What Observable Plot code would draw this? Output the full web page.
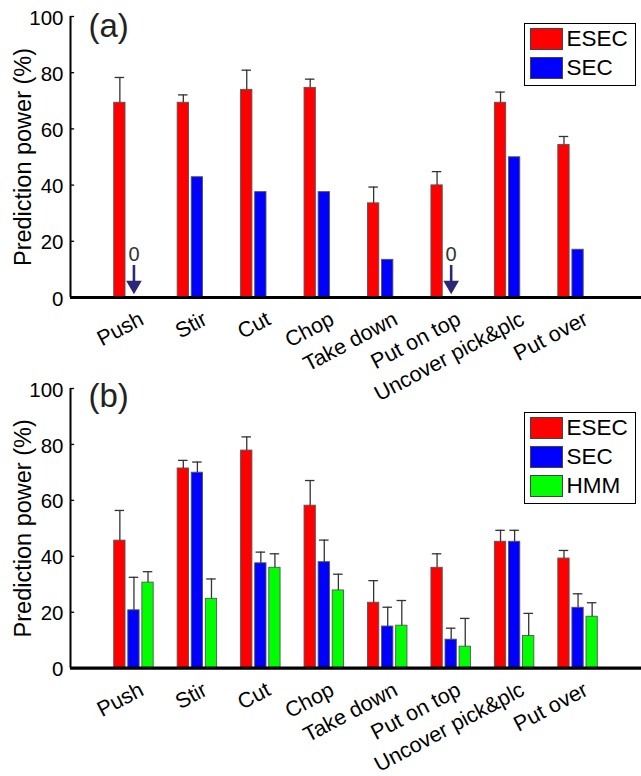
<!DOCTYPE html>
<html><head><meta charset="utf-8">
<script src="https://cdn.jsdelivr.net/npm/d3@7"></script>
<script src="https://cdn.jsdelivr.net/npm/@observablehq/plot@0.6"></script>
<style>
body{margin:0;background:#fff;font-family:"Liberation Sans",Arial,sans-serif;}
#wrap{position:relative;width:641px;height:776px;overflow:hidden;background:#fff;}
.panel{position:absolute;left:0;}
.legend{position:absolute;border:1.5px solid #000;background:#fff;box-sizing:border-box;}
.item{position:absolute;left:4.5px;display:flex;align-items:center;height:22px;}
.sw{width:33px;height:22px;border:1px solid #444;box-sizing:border-box;}
.lab{font-size:22.5px;margin-left:4px;color:#000;line-height:22px;}
</style></head>
<body><div id="wrap"></div>
<script>
// ---- data ----
const actions = ["Push","Stir","Cut","Chop","Take down","Put on top","Uncover pick&plc","Put over"];
const seriesAll = ["ESEC","SEC","HMM"];
const seriesColors = ["#ff0000","#0000ff","#00ff00"];
const yTicks = [0,20,40,60,80,100];

// panel (a)
const aESEC    = [69.3, 69.3, 73.9, 74.6, 33.5, 39.9, 69.3, 54.3];
const aESECerr = [9.0, 2.8, 7.0, 3.1, 5.8, 4.9, 3.8, 3.0];
const aSEC     = [0, 42.8, 37.5, 37.5, 13.4, 0, 49.9, 17.0];

// panel (b)
const bESEC    = [45.6, 71.4, 77.8, 58.1, 23.4, 35.9, 45.2, 39.2];
const bESECerr = [10.8, 2.9, 4.9, 9.0, 7.9, 5.0, 4.1, 2.9];
const bSEC     = [20.7, 69.9, 37.5, 37.9, 14.9, 10.2, 45.2, 21.6];
const bSECerr  = [11.8, 3.8, 4.0, 7.9, 6.9, 4.1, 4.1, 5.0];
const bHMM     = [30.6, 24.8, 35.9, 27.8, 15.2, 7.7, 11.5, 18.4];
const bHMMerr  = [3.9, 7.1, 5.0, 5.8, 9.0, 10.1, 8.1, 5.0];

// annotation for zero values (arrow with "0"), in data units
const zeroArrow = {shaftLow: 5.7, shaftHigh: 11.4, head: 4.4, label: 15.4};

// ---- build rows ----
function rowsOf(name, vals, errs) {
  return vals.map((v, i) => ({k: i + 1, series: name, slot: seriesAll.indexOf(name), value: v, err: errs ? errs[i] : null}));
}
const rowsA = [...rowsOf("ESEC", aESEC, aESECerr), ...rowsOf("SEC", aSEC, null)];
const rowsB = [...rowsOf("ESEC", bESEC, bESECerr), ...rowsOf("SEC", bSEC, bSECerr), ...rowsOf("HMM", bHMM, bHMMerr)];

const groupStep = 0.222, barW = 0.178, capW = 0.15;
const cx = d => d.k + (d.slot - 1) * groupStep;
const FONT = '"Liberation Sans", Arial, sans-serif';

function makePanel(rows, letter, height, marginBottom, letterDy) {
  const errRows = rows.filter(d => d.err != null);
  const zeros = rows.filter(d => d.value === 0);
  const marks = [
    Plot.rect(rows, {x1: d => cx(d) - barW / 2, x2: d => cx(d) + barW / 2, y1: 0, y2: "value", fill: "series", stroke: "#555", strokeWidth: 0.9}),
    Plot.ruleX(errRows, {x: cx, y1: "value", y2: d => d.value + d.err, stroke: "#333", strokeWidth: 1.3}),
    Plot.ruleY(errRows, {y: d => d.value + d.err, x1: d => cx(d) - capW / 2, x2: d => cx(d) + capW / 2, stroke: "#333", strokeWidth: 1.3}),
    Plot.ruleY(yTicks, {x1: 0, x2: 0.065, stroke: "#000", strokeWidth: 1.3}),
    Plot.ruleX([0], {y1: 0, y2: 100, stroke: "#000", strokeWidth: 2}),
    Plot.ruleY([0], {x1: 0, x2: 9, stroke: "#000", strokeWidth: 3.2}),
    Plot.ruleX(zeros, {x: cx, y1: zeroArrow.shaftLow, y2: zeroArrow.shaftHigh, stroke: "#2b2878", strokeWidth: 2.6}),
    Plot.dot(zeros, {x: cx, y: zeroArrow.head, symbol: "triangle", rotate: 180, r: 5.8, fill: "#2b2878", stroke: "none"}),
    Plot.text(zeros, {x: cx, y: zeroArrow.label, text: d => "0", fontSize: 20, fill: "#333"}),
    // y tick labels
    Plot.text(yTicks, {x: 0, y: d => d, text: d => String(d), textAnchor: "end", dx: -7, dy: 1.5, fontSize: 20.5, fill: "#000"}),
    // x category labels
    Plot.text(actions, {x: (d, i) => i + 1, y: 0, text: d => d, rotate: -28, textAnchor: "end", dx: 8, dy: 20, fontSize: 21.5, fill: "#000"}),
    Plot.text([letter], {frameAnchor: "top-left", text: d => d, textAnchor: "start", lineAnchor: "top", dx: 18, dy: letterDy, fontSize: 33, fill: "#222"}),
    Plot.text(["Prediction power (%)"], {frameAnchor: "left", text: d => d, rotate: -90, textAnchor: "middle", lineAnchor: "middle", dx: -47, fontSize: 23.5, fill: "#000"})
  ];
  return Plot.plot({
    width: 641, height, marginLeft: 70, marginRight: 0, marginTop: 16, marginBottom,
    style: {background: "transparent", fontFamily: FONT, overflow: "visible"},
    x: {type: "linear", domain: [0, 9], axis: null},
    y: {domain: [0, 100], axis: null},
    color: {domain: seriesAll, range: seriesColors},
    marks
  });
}

const wrap = document.getElementById("wrap");
const pB = makePanel(rowsB, "(b)", 404, 108.3, -5);
pB.classList.add("panel"); pB.style.top = "372px";
const pA = makePanel(rowsA, "(a)", 420, 123, -3);
pA.classList.add("panel"); pA.style.top = "0px";
wrap.appendChild(pB);
wrap.appendChild(pA);

function legend(names, left, top, w, h) {
  const box = document.createElement("div");
  box.className = "legend";
  Object.assign(box.style, {left: left + "px", top: top + "px", width: w + "px", height: h + "px"});
  names.forEach((n, i) => {
    const it = document.createElement("div");
    it.className = "item";
    it.style.top = (3.8 + i * 29) + "px";
    const sw = document.createElement("div");
    sw.className = "sw";
    sw.style.background = seriesColors[seriesAll.indexOf(n)];
    const lb = document.createElement("span");
    lb.className = "lab";
    lb.textContent = n;
    it.appendChild(sw); it.appendChild(lb);
    box.appendChild(it);
  });
  wrap.appendChild(box);
}
legend(["ESEC","SEC"], 524, 23, 112, 63);
legend(["ESEC","SEC","HMM"], 524, 412, 112, 92);
</script>
</body></html>
